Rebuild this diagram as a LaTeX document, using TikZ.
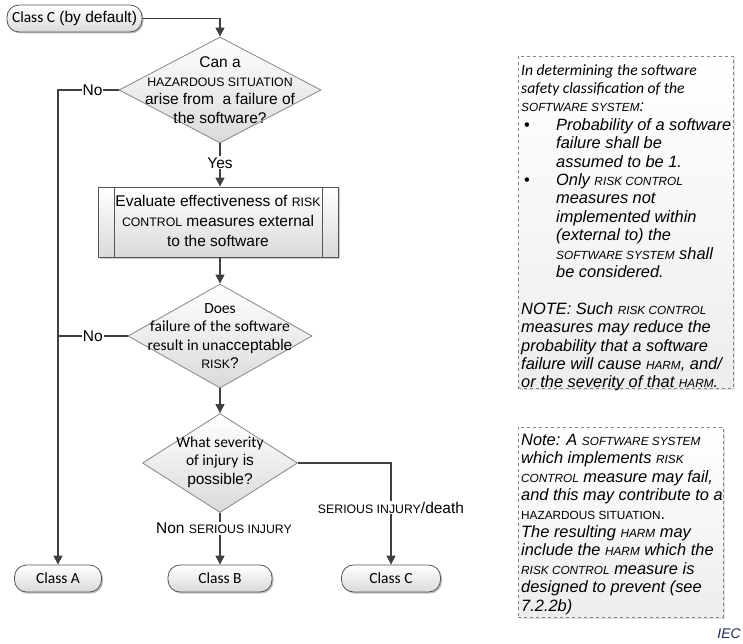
\documentclass[tikz,border=0pt]{standalone}
\usepackage{fontspec}
\setmainfont{Liberation Sans}
\newfontfamily\calib{Carlito}
\usetikzlibrary{shapes.geometric,arrows.meta,shadows,calc}
\definecolor{ln}{HTML}{404040}
\definecolor{bd}{HTML}{555555}
\definecolor{dbd}{HTML}{858585}
\definecolor{shd}{HTML}{DADADA}
\definecolor{nshd}{HTML}{EDEDED}
\definecolor{iec}{HTML}{1F2A5C}
\newcommand{\smc}[1]{{\fontsize{12.3pt}{18.5pt}\selectfont #1}}
\newcommand{\nsmc}[1]{{\fontsize{11.8pt}{18.4pt}\selectfont #1}}
\newcommand{\ncal}[1]{{\calib\fontsize{15.6pt}{18.4pt}\selectfont #1}}
\newcommand{\bul}{\hspace*{3pt}\makebox[32pt][l]{\upshape\textbullet}}
\newcommand{\ind}{\hspace*{35pt}}
\begin{document}
\begin{tikzpicture}[x=1pt,y=-1pt,
  every node/.style={font=\fontsize{15.5pt}{18.5pt}\selectfont},
  term/.style={draw=bd, line width=0.8pt, rounded corners=12pt, top color=white, bottom color=shd,
    minimum height=27pt, inner sep=0pt,
    drop shadow={shadow xshift=1.5pt, shadow yshift=-1.5pt, opacity=0.25, fill=black}},
  dia/.style={diamond, draw=dbd, line width=0.8pt, top color=white, bottom color=shd, inner sep=0pt},
  dtext/.style={align=center, inner sep=0pt},
  proc/.style={draw=bd, line width=0.8pt, top color=white, bottom color=shd, inner sep=0pt,
    drop shadow={shadow xshift=1.5pt, shadow yshift=-1.5pt, opacity=0.2, fill=black}},
  note/.style={draw=dbd, dashed, line width=0.7pt, top color=white, bottom color=nshd, inner sep=0pt,
    drop shadow={shadow xshift=1.5pt, shadow yshift=-1.5pt, opacity=0.12, fill=black}},
  ntext/.style={align=left, inner sep=0pt, font=\fontsize{16.4pt}{18.4pt}\selectfont\itshape},
  conn/.style={draw=ln, line width=1.2pt, -{Triangle[length=9pt,width=9pt]}},
  lbl/.style={fill=white, inner sep=1pt},
]
\useasboundingbox (0,0) rectangle (743,644);

% start
\node[term, minimum width=135pt] (s) at (74.5,18.5) {{\calib Class C} (by default)};

% decision 1
\node[dia, minimum width=202pt, minimum height=106pt] (d1) at (220,90) {};
\node[dtext] (d1t) at (220,90) {Can a\\ \smc{HAZARDOUS SITUATION}\\ arise from\ \ a failure of\\ the software?};

% process
\node[proc, minimum width=240pt, minimum height=70pt] (p) at (218,222) {};
\node[dtext, font=\fontsize{15.5pt}{20pt}\selectfont] (pt) at (218,221) {Evaluate effectiveness of \smc{RISK}\\ \smc{CONTROL} measures external\\ to the software};
\draw[draw=bd, line width=0.8pt] ([xshift=17pt]p.north west) -- ([xshift=17pt]p.south west);
\draw[draw=bd, line width=0.8pt] ([xshift=-16pt]p.north east) -- ([xshift=-16pt]p.south east);

% decision 2
\node[dia, minimum width=184pt, minimum height=104pt] (d2) at (220,336) {};
\node[dtext] (d2t) at (220,336) {{\calib Does}\\ {\calib failure of the software}\\ {\calib result in una}cceptable\\ \smc{RISK}?};

% decision 3
\node[dia, minimum width=155pt, minimum height=99pt] (d3) at (220,463) {};
\node[dtext] (d3t) at (220,462) {{\calib What severity}\\ {\calib of injury} is\\ possible?};

% terminals
\node[term, minimum width=87pt] (cA) at (58,578.5) {\calib Class A};
\node[term, minimum width=104pt] (cB) at (220,578.5) {\calib Class B};
\node[term, minimum width=99pt] (cC) at (391,578.5) {\calib Class C};

% connectors
\draw[conn] (s.east) -| (d1.north);
\draw[conn] (d1.south) -- node[lbl, pos=0.45] (yes) {Yes} (p.north -| d1.south);
\draw[conn] (p.south -| d2.north) -- (d2.north);
\draw[conn] (d2.south) -- (d3.north);
\coordinate (kA) at (cA.north |- d1.west);
\coordinate (kA2) at (cA.north |- d2.west);
\draw[conn] (d1.west) -- node[lbl, pos=0.43] (no1) {No} (kA) -- (cA.north);
\draw[draw=ln, line width=1.2pt] (d2.west) -- node[lbl, pos=0.5] (no2) {No} (kA2);
\draw[conn] (d3.south) -- node[lbl, pos=0.3, xshift=4pt] (nsi) {Non \smc{SERIOUS INJURY}} (cB.north);
\coordinate (kC) at (cC.north |- d3.east);
\draw[conn] (d3.east) -- (kC) -- node[lbl, pos=0.44] (sid) {\smc{SERIOUS INJURY}/death} (cC.north);

% notes
\node[note, minimum width=215pt, minimum height=332pt] (n1) at (625.5,222) {};
\node[ntext, anchor=north west] (n1t) at (521,64) {%
\ncal{In determining the software}\\
\ncal{safety classification of the}\\
\nsmc{SOFTWARE SYSTEM}:\\
\bul Probability of a software\\
\ind failure shall be\\
\ind assumed to be 1.\\
\bul Only \nsmc{RISK CONTROL}\\
\ind measures not\\
\ind implemented within\\
\ind (external to) the\\
\ind \nsmc{SOFTWARE SYSTEM} shall\\
\ind be considered.\\
\mbox{}\\
NOTE: Such \nsmc{RISK CONTROL}\\
measures may reduce the\\
probability that a software\\
failure will cause \nsmc{HARM}, and/\\
or the severity of that \nsmc{HARM}.};

\node[note, minimum width=205pt, minimum height=190pt] (n2) at (620.5,522) {};
\node[ntext, anchor=north west] (n2t) at (521,434) {%
Note: A \nsmc{SOFTWARE SYSTEM}\\
which implements \nsmc{RISK}\\
\nsmc{CONTROL} measure may fail,\\
and this may contribute to a\\
{\upshape\nsmc{HAZARDOUS SITUATION}.}\\
The resulting \nsmc{HARM} may\\
include the \nsmc{HARM} which the\\
\nsmc{RISK CONTROL} measure is\\
designed to prevent (see\\
7.2.2b)};

\node[anchor=east, inner sep=0pt, font=\fontsize{14pt}{16pt}\selectfont\itshape, text=iec] (iec) at (741,634) {IEC};
\end{tikzpicture}
\end{document}
